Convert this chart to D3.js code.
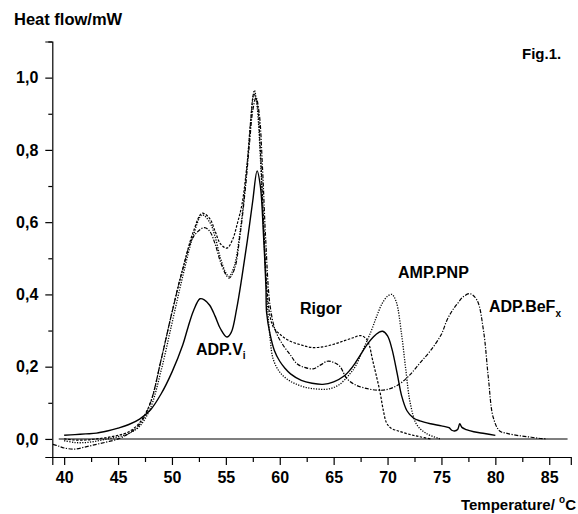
<!DOCTYPE html>
<html><head><meta charset="utf-8">
<script src="https://cdn.jsdelivr.net/npm/d3@7"></script>
<style>
body{margin:0;background:#fff;}
text{font-family:Arial,"Liberation Sans",Helvetica,sans-serif;font-weight:bold;fill:#000;}
</style></head>
<body><svg id="c" width="578" height="514"></svg>
<script>
// ---- data ----
const solidT = [40,41,42,43,44,45,46,47,48,49,50,51,51.5,52,52.6,53,53.5,54,54.5,55.1,55.5,56,56.5,57,57.5,57.9,58.2,58.5,58.72,58.78,59.1,59.5,60,60.5,61,62,63,64,65,66,66.5,67,67.75,68.2,68.7,69.2,69.55,70,70.4,70.9,71.3,71.8,72.4,73,74,75,75.7,75.95,76.2,76.5,76.7,76.9,77.3,78,79,80];
const solidV = [0.01,0.012,0.014,0.016,0.022,0.03,0.04,0.055,0.08,0.125,0.185,0.26,0.31,0.355,0.388,0.385,0.37,0.34,0.305,0.282,0.295,0.36,0.45,0.55,0.66,0.742,0.7,0.56,0.42,0.35,0.29,0.245,0.215,0.195,0.18,0.162,0.154,0.151,0.158,0.175,0.19,0.21,0.245,0.265,0.283,0.295,0.298,0.285,0.25,0.18,0.12,0.078,0.058,0.05,0.042,0.036,0.031,0.024,0.022,0.026,0.042,0.032,0.026,0.02,0.015,0.01];

const rigorT = [40,41,42,43,44,45,46,47,48,49,50,51,52,52.8,53.5,54,54.5,55.1,55.6,56.1,56.5,57,57.3,57.6,57.9,58.2,58.5,58.8,59.1,59.4,60,60.8,62,63,64,65,66,66.8,67.5,68,68.3,68.6,69,69.3,69.6,69.9,70.3,71,72,73,74];
const rigorV = [0,-0.003,-0.003,0,0.004,0.01,0.02,0.045,0.1,0.22,0.35,0.47,0.575,0.625,0.61,0.575,0.54,0.528,0.55,0.6,0.65,0.77,0.88,0.955,0.93,0.8,0.6,0.42,0.34,0.31,0.29,0.273,0.26,0.253,0.255,0.262,0.272,0.28,0.286,0.278,0.26,0.22,0.17,0.13,0.08,0.045,0.03,0.022,0.013,0.006,0];

const ampT = [40,41,42,43,44,45,46,47,48,49,50,51,52,52.8,53.5,54,54.5,55,55.3,55.8,56.3,56.8,57.2,57.5,57.65,57.9,58.2,58.5,58.8,59.1,59.4,60,60.7,61.5,62.5,63.5,64.5,65.5,66.5,67,67.7,68.5,69,69.5,70,70.4,70.8,71.3,71.7,72.1,72.7,73.6,74.9];
const ampV = [-0.005,-0.01,-0.01,-0.006,0,0.006,0.015,0.035,0.085,0.19,0.32,0.45,0.565,0.62,0.6,0.56,0.5,0.46,0.45,0.48,0.57,0.7,0.84,0.94,0.965,0.92,0.78,0.58,0.4,0.28,0.22,0.185,0.165,0.152,0.142,0.138,0.138,0.15,0.18,0.2,0.245,0.3,0.34,0.375,0.395,0.4,0.38,0.29,0.19,0.1,0.04,0.015,0];

const befT = [38.95,39.5,40,41,42,43,44,45,46,47,48,49,50,51,52,53,53.5,54,54.5,55,55.3,55.8,56.3,56.8,57.2,57.5,57.8,58.1,58.4,58.7,59.1,59.6,60.3,61,61.6,62.3,63.1,63.8,64.4,65,65.6,66.2,67,68,69,70,71,72,73,74,75,75.5,76,76.5,77,77.65,78.3,78.9,79.35,79.8,80.4,81,82,83,84,84.8];
const befV = [-0.015,-0.02,-0.025,-0.028,-0.022,-0.015,-0.008,0,0.015,0.04,0.1,0.22,0.35,0.47,0.56,0.585,0.575,0.54,0.49,0.455,0.445,0.47,0.56,0.69,0.82,0.91,0.945,0.9,0.75,0.55,0.37,0.3,0.26,0.232,0.208,0.198,0.194,0.205,0.215,0.212,0.2,0.168,0.15,0.14,0.135,0.137,0.15,0.175,0.21,0.245,0.29,0.328,0.355,0.375,0.393,0.402,0.384,0.3,0.17,0.06,0.022,0.016,0.01,0.006,0.002,0];

const xTicks = [40,45,50,55,60,65,70,75,80,85];
const xMinor = [42.5,47.5,52.5,57.5,62.5,67.5,72.5,77.5,82.5];
const yTicks = [0,0.2,0.4,0.6,0.8,1.0];
const yMinor = [0.1,0.3,0.5,0.7,0.9,1.1];
const yTickLabels = ["0,0","0,2","0,4","0,6","0,8","1,0"];

// ---- drawing ----
const svg = d3.select("#c");
const x = d3.scaleLinear().domain([38.9, 87]).range([52.3, 570.8]);
const y = d3.scaleLinear().domain([-0.05, 1.1]).range([457, 41.5]);

const line = d3.line().x(d => x(d[0])).y(d => y(d[1])).curve(d3.curveCatmullRom.alpha(0.5));
const zip = (a, b) => a.map((t, i) => [t, b[i]]);

// baseline at zero
svg.append("line").attr("x1", x(39.5)).attr("x2", x(86.7)).attr("y1", y(0)).attr("y2", y(0))
  .attr("stroke", "#000").attr("stroke-width", 1.1);

const series = [
  {d: zip(solidT, solidV), dash: null, w: 1.4},
  {d: zip(rigorT, rigorV), dash: "2.5,1.5", w: 1.2},
  {d: zip(ampT, ampV), dash: "1.2,1.4", w: 1.3},
  {d: zip(befT, befV), dash: "4,1.5,1.2,1.5", w: 1.2}
];
series.forEach(s => {
  svg.append("path").attr("d", line(s.d)).attr("fill", "none").attr("stroke", "#000")
    .attr("stroke-width", s.w).attr("stroke-dasharray", s.dash);
});

// axes
svg.append("g").attr("transform", `translate(0,${y.range()[0]})`)
  .call(d3.axisBottom(x).tickValues(xTicks).tickSize(8).tickPadding(7).tickFormat(d3.format("d")));
svg.append("g").attr("transform", `translate(0,${y.range()[0]})`)
  .call(d3.axisBottom(x).tickValues(xMinor).tickSize(5).tickFormat(""))
  .select(".domain").remove();
svg.append("g").attr("transform", `translate(${x.range()[0]},0)`)
  .call(d3.axisLeft(y).tickValues(yTicks).tickSize(7).tickPadding(7).tickFormat((d, i) => yTickLabels[i]));
svg.append("g").attr("transform", `translate(${x.range()[0]},0)`)
  .call(d3.axisLeft(y).tickValues(yMinor).tickSize(4).tickFormat(""))
  .select(".domain").remove();
svg.selectAll(".domain").attr("stroke", "#000").attr("stroke-width", 1.2);
svg.selectAll(".tick line").attr("stroke", "#000").attr("stroke-width", 1.2);
svg.selectAll(".tick text").style("font-size", "16px").style("font-weight", "bold")
  .style("font-family", "Arial, 'Liberation Sans', sans-serif").attr("fill", "#000");

// texts
svg.append("text").attr("x", 14).attr("y", 25).style("font-size", "16.5px").text("Heat flow/mW");
svg.append("text").attr("x", 522).attr("y", 59).style("font-size", "15px").text("Fig.1.");
const xt = svg.append("text").attr("x", 576).attr("y", 510).attr("text-anchor", "end").style("font-size", "15px");
xt.append("tspan").text("Temperature/ ");
xt.append("tspan").attr("dy", -7).style("font-size", "10px").text("o");
xt.append("tspan").attr("dy", 7).text("C");

const t1 = svg.append("text").attr("x", 196).attr("y", 355).style("font-size", "16px");
t1.append("tspan").text("ADP.V");
t1.append("tspan").attr("dy", 4).style("font-size", "10px").text("i");
svg.append("text").attr("x", 300).attr("y", 314).style("font-size", "16px").text("Rigor");
svg.append("text").attr("x", 398).attr("y", 278).style("font-size", "16px").text("AMP.PNP");
const t4 = svg.append("text").attr("x", 489).attr("y", 312).style("font-size", "16px");
t4.append("tspan").text("ADP.BeF");
t4.append("tspan").attr("dy", 5).style("font-size", "10px").text("x");
</script></body></html>
